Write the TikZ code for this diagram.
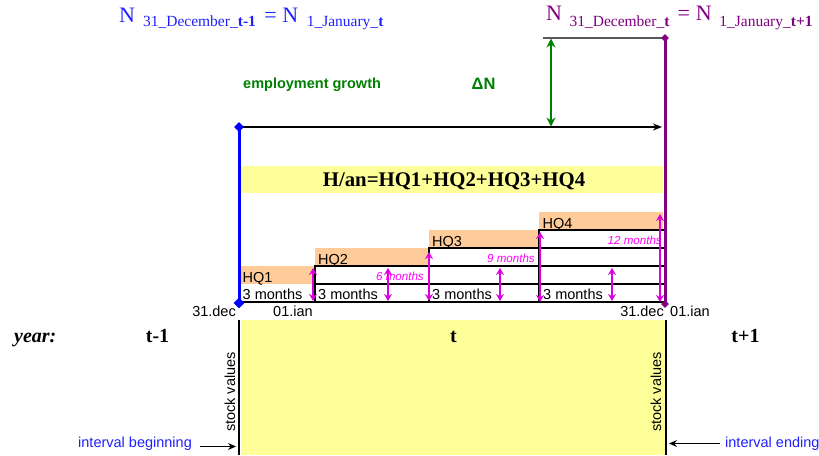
\documentclass[tikz,border=0pt]{standalone}
\usepackage{fontspec}
\setmainfont{Liberation Serif}
\setsansfont{Liberation Sans}
\usetikzlibrary{arrows.meta,shapes.geometric}
\definecolor{hqorange}{HTML}{FFCC99}
\definecolor{yel}{HTML}{FFFF99}
\definecolor{hblue}{HTML}{2020FF}
\definecolor{hpurple}{HTML}{800080}
\definecolor{hgreen}{HTML}{008000}
\definecolor{mag}{HTML}{FF00FF}
\definecolor{magarr}{HTML}{DD00DD}
\newcommand{\bigN}{{\fontsize{22}{22}\selectfont N}}
\newcommand{\subtx}[2]{\raisebox{-#1}{\fontsize{15.5}{15.5}\selectfont #2}}
\newcommand{\bigeq}{{\fontsize{22}{22}\selectfont =}}
\begin{document}
\begin{tikzpicture}[x=1pt,y=-1pt,
  sans/.style={font=\sffamily\fontsize{14.5}{14.5}\selectfont},
  lbl/.style={inner sep=0, anchor=base west, sans},
  datel/.style={inner sep=0, anchor=base west, sans},
  mon/.style={inner sep=0, anchor=base east, font=\sffamily\itshape\fontsize{11.6}{11.6}\selectfont, text=mag},
  marr/.style={draw=magarr, line width=1.8, {Stealth[length=7,width=8]}-{Stealth[length=7,width=8]}},
  box/.style={draw=black, line width=2},
  hdr/.style={inner sep=0, anchor=base west, font=\rmfamily},
  yearlbl/.style={inner sep=0, anchor=base, font=\rmfamily\bfseries\fontsize{20}{20}\selectfont},
  dmd/.style={diamond, inner sep=0, minimum width=#1, minimum height=#1},
  stockv/.style={inner sep=0, anchor=base, rotate=90, sans},
  intv/.style={inner sep=0, anchor=base west, sans, text=hblue}
]
\useasboundingbox (0,0) rectangle (819,455);

% ---------- headers
\node[hdr, text=hblue] (hl) at (119,22)
  {\bigN\hspace{8pt}\subtx{4.5pt}{31\_December\_\textbf{t-1}}\hspace{8.5pt}\bigeq\hspace{5.5pt}\bigN\hspace{8.5pt}\subtx{4.5pt}{1\_January\_\textbf{t}}};
\node[hdr, text=hpurple] (hr) at (546,20)
  {\bigN\hspace{7.5pt}\subtx{6pt}{31\_December\_\textbf{t}}\hspace{8pt}\bigeq\hspace{6pt}\bigN\hspace{7.5pt}\subtx{6pt}{1\_January\_\textbf{t+1}}};

% ---------- key coordinates
\coordinate (gl) at (543,38);
\coordinate (pt) at (665,38);
\coordinate (pb) at (665,304);
\coordinate (bt) at (239,127);
\coordinate (bb) at (239,303);
\coordinate (ae) at (662,127);
\coordinate (gt) at (551,38.5);
\coordinate (gb) at (551,126.5);

% ---------- texts top
\node[inner sep=0, anchor=base west, font=\sffamily\bfseries\fontsize{14.5}{14.5}\selectfont, text=hgreen] (emp) at (243,88) {employment growth};
\node[inner sep=0, anchor=base west, font=\sffamily\bfseries\fontsize{16.5}{16.5}\selectfont, text=hgreen] (dn) at (471.5,89) {ΔN};

% ---------- formula band
\fill[yel] (241,166) rectangle (663,193);
\node[inner sep=0, anchor=base, font=\rmfamily\bfseries\fontsize{20.8}{20.8}\selectfont] (form) at (454,186.5) {H/an=HQ1+HQ2+HQ3+HQ4};

% ---------- bottom year area
\fill[yel] (241,320) rectangle (665,455);
\coordinate (l1) at (239,320); \coordinate (l2) at (239,455);
\coordinate (r1) at (666,320); \coordinate (r2) at (666,455);
\draw[line width=2] (l1) -- (l2);
\draw[line width=2] (r1) -- (r2);
\node[inner sep=0, anchor=base west, font=\rmfamily\bfseries\itshape\fontsize{20}{20}\selectfont] (yr) at (14,342) {year:};
\node[yearlbl] (ytm) at (157.5,342) {t-1};
\node[yearlbl] (yt) at (453.5,342) {t};
\node[yearlbl] (ytp) at (745.5,342) {t+1};
\node[stockv] (sv1) at (235,392) {stock values};
\node[stockv] (sv2) at (661,392) {stock values};
\node[intv] (ib) at (78,447) {interval beginning};
\node[intv] (ie) at (725,447) {interval ending};
\coordinate (ib1) at (200,446.5); \coordinate (ib2) at (236,446.5);
\coordinate (ie1) at (720,443.5); \coordinate (ie2) at (669,443.5);
\draw[line width=1.2, -{Stealth[length=8,width=7]}] (ib1) -- (ib2);
\draw[line width=1.2, -{Stealth[length=8,width=7]}] (ie1) -- (ie2);

% ---------- HQ blocks
\fill[hqorange] (241,266) rectangle (314,284);
\fill[hqorange] (315,248) rectangle (429,266);
\fill[hqorange] (429,230) rectangle (539,248);
\fill[hqorange] (539,212) rectangle (663,230);
\draw[box] (315,266) rectangle (666,302);
\draw[box] (429,248) rectangle (666,302);
\draw[box] (539,230) rectangle (666,302);
\draw[box] (315,284) -- (666,284);
\draw[box] (239,302) -- (666,302);

\node[lbl] (hq1) at (242.5,282) {HQ1};
\node[lbl] (hq2) at (318,264) {HQ2};
\node[lbl] (hq3) at (432,246) {HQ3};
\node[lbl] (hq4) at (542.5,228) {HQ4};
\node[lbl] (m1) at (242.5,299) {3 months};
\node[lbl] (m2) at (318,299) {3 months};
\node[lbl] (m3) at (432,299) {3 months};
\node[lbl] (m4) at (543,299) {3 months};
\node[mon] (m6) at (424,280) {6 months};
\node[mon] (m9) at (535,262) {9 months};
\node[mon] (m12) at (662,244) {12 months};

% dates
\node[inner sep=0, anchor=base east, sans] (d1) at (236,316) {31.dec};
\node[datel] (d2) at (273,316) {01.ian};
\node[inner sep=0, anchor=base east, sans] (d3) at (664,316) {31.dec};
\node[datel] (d4) at (670,316) {01.ian};

% ---------- main lines
\draw[draw=black!65, line width=1.5] (gl) -- (pt);
\draw[line width=1.1, -{Stealth[length=9,width=7]}] (bt) -- (ae);
\draw[blue, line width=3] (bt) -- (bb);
\node[dmd=10, fill=blue] (dbt) at (bt) {};
\node[dmd=11, fill=blue] (dbb) at (bb) {};
\draw[hgreen, line width=2.5, {Stealth[length=9,width=9]}-{Stealth[length=9,width=9]}] (gt) -- (gb);
\draw[hpurple, line width=3] (pt) -- (pb);
\node[dmd=8, fill=hpurple] (dpt) at (pt) {};
\node[dmd=8, fill=hpurple] (dpb) at (pb) {};

% ---------- magenta arrows
\foreach \x/\ya/\yb [count=\i] in {313/268/301, 388/268/301, 429/252/301, 500/268/301, 540/232/302, 612/268/301, 660/214/302} {
  \coordinate (ma\i) at (\x,\ya);
  \coordinate (mb\i) at (\x,\yb);
  \draw[marr] (ma\i) -- (mb\i);
}
\end{tikzpicture}
\end{document}
